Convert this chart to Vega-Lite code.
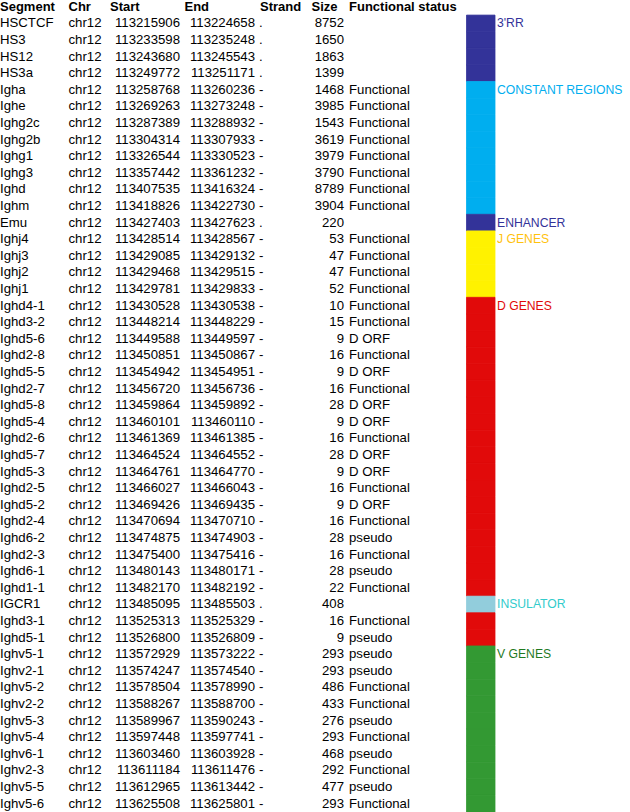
{
  "$schema": "https://vega.github.io/schema/vega-lite/v6.json",
  "padding": 0,
  "bounds": "flush",
  "spacing": 4.5,
  "background": "white",
  "config": {"view": {"stroke": null}, "text": {"font": "Liberation Sans", "fontSize": 13.2, "baseline": "middle", "align": "left", "color": "black"}},
  "datasets": {
    "rows": [
      {"Segment": "HSCTCF", "Chr": "chr12", "Start": 113215906, "End": 113224658, "Strand": ".", "Size": 8752, "Status": "", "Region": "3'RR", "Label": "3'RR"},
      {"Segment": "HS3", "Chr": "chr12", "Start": 113233598, "End": 113235248, "Strand": ".", "Size": 1650, "Status": "", "Region": "3'RR"},
      {"Segment": "HS12", "Chr": "chr12", "Start": 113243680, "End": 113245543, "Strand": ".", "Size": 1863, "Status": "", "Region": "3'RR"},
      {"Segment": "HS3a", "Chr": "chr12", "Start": 113249772, "End": 113251171, "Strand": ".", "Size": 1399, "Status": "", "Region": "3'RR"},
      {"Segment": "Igha", "Chr": "chr12", "Start": 113258768, "End": 113260236, "Strand": "-", "Size": 1468, "Status": "Functional", "Region": "CONSTANT REGIONS", "Label": "CONSTANT REGIONS"},
      {"Segment": "Ighe", "Chr": "chr12", "Start": 113269263, "End": 113273248, "Strand": "-", "Size": 3985, "Status": "Functional", "Region": "CONSTANT REGIONS"},
      {"Segment": "Ighg2c", "Chr": "chr12", "Start": 113287389, "End": 113288932, "Strand": "-", "Size": 1543, "Status": "Functional", "Region": "CONSTANT REGIONS"},
      {"Segment": "Ighg2b", "Chr": "chr12", "Start": 113304314, "End": 113307933, "Strand": "-", "Size": 3619, "Status": "Functional", "Region": "CONSTANT REGIONS"},
      {"Segment": "Ighg1", "Chr": "chr12", "Start": 113326544, "End": 113330523, "Strand": "-", "Size": 3979, "Status": "Functional", "Region": "CONSTANT REGIONS"},
      {"Segment": "Ighg3", "Chr": "chr12", "Start": 113357442, "End": 113361232, "Strand": "-", "Size": 3790, "Status": "Functional", "Region": "CONSTANT REGIONS"},
      {"Segment": "Ighd", "Chr": "chr12", "Start": 113407535, "End": 113416324, "Strand": "-", "Size": 8789, "Status": "Functional", "Region": "CONSTANT REGIONS"},
      {"Segment": "Ighm", "Chr": "chr12", "Start": 113418826, "End": 113422730, "Strand": "-", "Size": 3904, "Status": "Functional", "Region": "CONSTANT REGIONS"},
      {"Segment": "Emu", "Chr": "chr12", "Start": 113427403, "End": 113427623, "Strand": ".", "Size": 220, "Status": "", "Region": "ENHANCER", "Label": "ENHANCER"},
      {"Segment": "Ighj4", "Chr": "chr12", "Start": 113428514, "End": 113428567, "Strand": "-", "Size": 53, "Status": "Functional", "Region": "J GENES", "Label": "J GENES"},
      {"Segment": "Ighj3", "Chr": "chr12", "Start": 113429085, "End": 113429132, "Strand": "-", "Size": 47, "Status": "Functional", "Region": "J GENES"},
      {"Segment": "Ighj2", "Chr": "chr12", "Start": 113429468, "End": 113429515, "Strand": "-", "Size": 47, "Status": "Functional", "Region": "J GENES"},
      {"Segment": "Ighj1", "Chr": "chr12", "Start": 113429781, "End": 113429833, "Strand": "-", "Size": 52, "Status": "Functional", "Region": "J GENES"},
      {"Segment": "Ighd4-1", "Chr": "chr12", "Start": 113430528, "End": 113430538, "Strand": "-", "Size": 10, "Status": "Functional", "Region": "D GENES", "Label": "D GENES"},
      {"Segment": "Ighd3-2", "Chr": "chr12", "Start": 113448214, "End": 113448229, "Strand": "-", "Size": 15, "Status": "Functional", "Region": "D GENES"},
      {"Segment": "Ighd5-6", "Chr": "chr12", "Start": 113449588, "End": 113449597, "Strand": "-", "Size": 9, "Status": "D ORF", "Region": "D GENES"},
      {"Segment": "Ighd2-8", "Chr": "chr12", "Start": 113450851, "End": 113450867, "Strand": "-", "Size": 16, "Status": "Functional", "Region": "D GENES"},
      {"Segment": "Ighd5-5", "Chr": "chr12", "Start": 113454942, "End": 113454951, "Strand": "-", "Size": 9, "Status": "D ORF", "Region": "D GENES"},
      {"Segment": "Ighd2-7", "Chr": "chr12", "Start": 113456720, "End": 113456736, "Strand": "-", "Size": 16, "Status": "Functional", "Region": "D GENES"},
      {"Segment": "Ighd5-8", "Chr": "chr12", "Start": 113459864, "End": 113459892, "Strand": "-", "Size": 28, "Status": "D ORF", "Region": "D GENES"},
      {"Segment": "Ighd5-4", "Chr": "chr12", "Start": 113460101, "End": 113460110, "Strand": "-", "Size": 9, "Status": "D ORF", "Region": "D GENES"},
      {"Segment": "Ighd2-6", "Chr": "chr12", "Start": 113461369, "End": 113461385, "Strand": "-", "Size": 16, "Status": "Functional", "Region": "D GENES"},
      {"Segment": "Ighd5-7", "Chr": "chr12", "Start": 113464524, "End": 113464552, "Strand": "-", "Size": 28, "Status": "D ORF", "Region": "D GENES"},
      {"Segment": "Ighd5-3", "Chr": "chr12", "Start": 113464761, "End": 113464770, "Strand": "-", "Size": 9, "Status": "D ORF", "Region": "D GENES"},
      {"Segment": "Ighd2-5", "Chr": "chr12", "Start": 113466027, "End": 113466043, "Strand": "-", "Size": 16, "Status": "Functional", "Region": "D GENES"},
      {"Segment": "Ighd5-2", "Chr": "chr12", "Start": 113469426, "End": 113469435, "Strand": "-", "Size": 9, "Status": "D ORF", "Region": "D GENES"},
      {"Segment": "Ighd2-4", "Chr": "chr12", "Start": 113470694, "End": 113470710, "Strand": "-", "Size": 16, "Status": "Functional", "Region": "D GENES"},
      {"Segment": "Ighd6-2", "Chr": "chr12", "Start": 113474875, "End": 113474903, "Strand": "-", "Size": 28, "Status": "pseudo", "Region": "D GENES"},
      {"Segment": "Ighd2-3", "Chr": "chr12", "Start": 113475400, "End": 113475416, "Strand": "-", "Size": 16, "Status": "Functional", "Region": "D GENES"},
      {"Segment": "Ighd6-1", "Chr": "chr12", "Start": 113480143, "End": 113480171, "Strand": "-", "Size": 28, "Status": "pseudo", "Region": "D GENES"},
      {"Segment": "Ighd1-1", "Chr": "chr12", "Start": 113482170, "End": 113482192, "Strand": "-", "Size": 22, "Status": "Functional", "Region": "D GENES"},
      {"Segment": "IGCR1", "Chr": "chr12", "Start": 113485095, "End": 113485503, "Strand": ".", "Size": 408, "Status": "", "Region": "INSULATOR", "Label": "INSULATOR"},
      {"Segment": "Ighd3-1", "Chr": "chr12", "Start": 113525313, "End": 113525329, "Strand": "-", "Size": 16, "Status": "Functional", "Region": "D GENES"},
      {"Segment": "Ighd5-1", "Chr": "chr12", "Start": 113526800, "End": 113526809, "Strand": "-", "Size": 9, "Status": "pseudo", "Region": "D GENES"},
      {"Segment": "Ighv5-1", "Chr": "chr12", "Start": 113572929, "End": 113573222, "Strand": "-", "Size": 293, "Status": "pseudo", "Region": "V GENES", "Label": "V GENES"},
      {"Segment": "Ighv2-1", "Chr": "chr12", "Start": 113574247, "End": 113574540, "Strand": "-", "Size": 293, "Status": "pseudo", "Region": "V GENES"},
      {"Segment": "Ighv5-2", "Chr": "chr12", "Start": 113578504, "End": 113578990, "Strand": "-", "Size": 486, "Status": "Functional", "Region": "V GENES"},
      {"Segment": "Ighv2-2", "Chr": "chr12", "Start": 113588267, "End": 113588700, "Strand": "-", "Size": 433, "Status": "Functional", "Region": "V GENES"},
      {"Segment": "Ighv5-3", "Chr": "chr12", "Start": 113589967, "End": 113590243, "Strand": "-", "Size": 276, "Status": "pseudo", "Region": "V GENES"},
      {"Segment": "Ighv5-4", "Chr": "chr12", "Start": 113597448, "End": 113597741, "Strand": "-", "Size": 293, "Status": "Functional", "Region": "V GENES"},
      {"Segment": "Ighv6-1", "Chr": "chr12", "Start": 113603460, "End": 113603928, "Strand": "-", "Size": 468, "Status": "pseudo", "Region": "V GENES"},
      {"Segment": "Ighv2-3", "Chr": "chr12", "Start": 113611184, "End": 113611476, "Strand": "-", "Size": 292, "Status": "Functional", "Region": "V GENES"},
      {"Segment": "Ighv5-5", "Chr": "chr12", "Start": 113612965, "End": 113613442, "Strand": "-", "Size": 477, "Status": "pseudo", "Region": "V GENES"},
      {"Segment": "Ighv5-6", "Chr": "chr12", "Start": 113625508, "End": 113625801, "Strand": "-", "Size": 293, "Status": "Functional", "Region": "V GENES"}
    ]
  },
  "data": {"name": "rows"},
  "hconcat": [
    {
      "width": 63.5, "height": 812,
      "layer": [
        {"data": {"values": [{"col": "Segment"}]}, "mark": {"type": "text", "fontWeight": "bold", "fontSize": 13},
         "encoding": {"x": {"datum": "L", "type": "nominal", "axis": null}, "y": {"datum": "header", "type": "nominal", "axis": null}, "text": {"field": "col"}}},
        {"mark": {"type": "text"},
         "encoding": {"x": {"datum": "L", "type": "nominal", "axis": null, "scale": {"type": "point", "domain": ["L", "R"], "padding": 0}},
           "y": {"field": "Segment", "type": "nominal", "axis": null,
             "scale": {"type": "band", "paddingInner": 0, "paddingOuter": 0, "range": [-2.5, 811],
               "domain": ["header", "HSCTCF", "HS3", "HS12", "HS3a", "Igha", "Ighe", "Ighg2c", "Ighg2b", "Ighg1", "Ighg3", "Ighd", "Ighm", "Emu", "Ighj4", "Ighj3", "Ighj2", "Ighj1", "Ighd4-1", "Ighd3-2", "Ighd5-6", "Ighd2-8", "Ighd5-5", "Ighd2-7", "Ighd5-8", "Ighd5-4", "Ighd2-6", "Ighd5-7", "Ighd5-3", "Ighd2-5", "Ighd5-2", "Ighd2-4", "Ighd6-2", "Ighd2-3", "Ighd6-1", "Ighd1-1", "IGCR1", "Ighd3-1", "Ighd5-1", "Ighv5-1", "Ighv2-1", "Ighv5-2", "Ighv2-2", "Ighv5-3", "Ighv5-4", "Ighv6-1", "Ighv2-3", "Ighv5-5", "Ighv5-6"]}},
           "text": {"field": "Segment"}}}
      ]
    },
    {
      "width": 37, "height": 812,
      "layer": [
        {"data": {"values": [{"col": "Chr"}]}, "mark": {"type": "text", "fontWeight": "bold", "fontSize": 13},
         "encoding": {"x": {"datum": "L", "type": "nominal", "axis": null}, "y": {"datum": "header", "type": "nominal", "axis": null}, "text": {"field": "col"}}},
        {"mark": {"type": "text"},
         "encoding": {"x": {"datum": "L", "type": "nominal", "axis": null, "scale": {"type": "point", "domain": ["L", "R"], "padding": 0}},
           "y": {"field": "Segment", "type": "nominal", "axis": null,
             "scale": {"type": "band", "paddingInner": 0, "paddingOuter": 0, "range": [-2.5, 811],
               "domain": ["header", "HSCTCF", "HS3", "HS12", "HS3a", "Igha", "Ighe", "Ighg2c", "Ighg2b", "Ighg1", "Ighg3", "Ighd", "Ighm", "Emu", "Ighj4", "Ighj3", "Ighj2", "Ighj1", "Ighd4-1", "Ighd3-2", "Ighd5-6", "Ighd2-8", "Ighd5-5", "Ighd2-7", "Ighd5-8", "Ighd5-4", "Ighd2-6", "Ighd5-7", "Ighd5-3", "Ighd2-5", "Ighd5-2", "Ighd2-4", "Ighd6-2", "Ighd2-3", "Ighd6-1", "Ighd1-1", "IGCR1", "Ighd3-1", "Ighd5-1", "Ighv5-1", "Ighv2-1", "Ighv5-2", "Ighv2-2", "Ighv5-3", "Ighv5-4", "Ighv6-1", "Ighv2-3", "Ighv5-5", "Ighv5-6"]}},
           "text": {"field": "Chr"}}}
      ]
    },
    {
      "width": 70, "height": 812,
      "layer": [
        {"data": {"values": [{"col": "Start"}]}, "mark": {"type": "text", "fontWeight": "bold", "fontSize": 13},
         "encoding": {"x": {"datum": "L", "type": "nominal", "axis": null}, "y": {"datum": "header", "type": "nominal", "axis": null}, "text": {"field": "col"}}},
        {"mark": {"type": "text", "align": "right"},
         "encoding": {"x": {"datum": "R", "type": "nominal", "axis": null, "scale": {"type": "point", "domain": ["L", "R"], "padding": 0}},
           "y": {"field": "Segment", "type": "nominal", "axis": null,
             "scale": {"type": "band", "paddingInner": 0, "paddingOuter": 0, "range": [-2.5, 811],
               "domain": ["header", "HSCTCF", "HS3", "HS12", "HS3a", "Igha", "Ighe", "Ighg2c", "Ighg2b", "Ighg1", "Ighg3", "Ighd", "Ighm", "Emu", "Ighj4", "Ighj3", "Ighj2", "Ighj1", "Ighd4-1", "Ighd3-2", "Ighd5-6", "Ighd2-8", "Ighd5-5", "Ighd2-7", "Ighd5-8", "Ighd5-4", "Ighd2-6", "Ighd5-7", "Ighd5-3", "Ighd2-5", "Ighd5-2", "Ighd2-4", "Ighd6-2", "Ighd2-3", "Ighd6-1", "Ighd1-1", "IGCR1", "Ighd3-1", "Ighd5-1", "Ighv5-1", "Ighv2-1", "Ighv5-2", "Ighv2-2", "Ighv5-3", "Ighv5-4", "Ighv6-1", "Ighv2-3", "Ighv5-5", "Ighv5-6"]}},
           "text": {"field": "Start", "type": "quantitative", "format": "d"}}}
      ]
    },
    {
      "width": 70.5, "height": 812,
      "layer": [
        {"data": {"values": [{"col": "End"}]}, "mark": {"type": "text", "fontWeight": "bold", "fontSize": 13},
         "encoding": {"x": {"datum": "L", "type": "nominal", "axis": null}, "y": {"datum": "header", "type": "nominal", "axis": null}, "text": {"field": "col"}}},
        {"mark": {"type": "text", "align": "right"},
         "encoding": {"x": {"datum": "R", "type": "nominal", "axis": null, "scale": {"type": "point", "domain": ["L", "R"], "padding": 0}},
           "y": {"field": "Segment", "type": "nominal", "axis": null,
             "scale": {"type": "band", "paddingInner": 0, "paddingOuter": 0, "range": [-2.5, 811],
               "domain": ["header", "HSCTCF", "HS3", "HS12", "HS3a", "Igha", "Ighe", "Ighg2c", "Ighg2b", "Ighg1", "Ighg3", "Ighd", "Ighm", "Emu", "Ighj4", "Ighj3", "Ighj2", "Ighj1", "Ighd4-1", "Ighd3-2", "Ighd5-6", "Ighd2-8", "Ighd5-5", "Ighd2-7", "Ighd5-8", "Ighd5-4", "Ighd2-6", "Ighd5-7", "Ighd5-3", "Ighd2-5", "Ighd5-2", "Ighd2-4", "Ighd6-2", "Ighd2-3", "Ighd6-1", "Ighd1-1", "IGCR1", "Ighd3-1", "Ighd5-1", "Ighv5-1", "Ighv2-1", "Ighv5-2", "Ighv2-2", "Ighv5-3", "Ighv5-4", "Ighv6-1", "Ighv2-3", "Ighv5-5", "Ighv5-6"]}},
           "text": {"field": "End", "type": "quantitative", "format": "d"}}}
      ]
    },
    {
      "width": 46.5, "height": 812,
      "layer": [
        {"data": {"values": [{"col": "Strand"}]}, "mark": {"type": "text", "fontWeight": "bold", "fontSize": 13},
         "encoding": {"x": {"datum": "L", "type": "nominal", "axis": null}, "y": {"datum": "header", "type": "nominal", "axis": null}, "text": {"field": "col"}}},
        {"mark": {"type": "text", "dx": -1},
         "encoding": {"x": {"datum": "L", "type": "nominal", "axis": null, "scale": {"type": "point", "domain": ["L", "R"], "padding": 0}},
           "y": {"field": "Segment", "type": "nominal", "axis": null,
             "scale": {"type": "band", "paddingInner": 0, "paddingOuter": 0, "range": [-2.5, 811],
               "domain": ["header", "HSCTCF", "HS3", "HS12", "HS3a", "Igha", "Ighe", "Ighg2c", "Ighg2b", "Ighg1", "Ighg3", "Ighd", "Ighm", "Emu", "Ighj4", "Ighj3", "Ighj2", "Ighj1", "Ighd4-1", "Ighd3-2", "Ighd5-6", "Ighd2-8", "Ighd5-5", "Ighd2-7", "Ighd5-8", "Ighd5-4", "Ighd2-6", "Ighd5-7", "Ighd5-3", "Ighd2-5", "Ighd5-2", "Ighd2-4", "Ighd6-2", "Ighd2-3", "Ighd6-1", "Ighd1-1", "IGCR1", "Ighd3-1", "Ighd5-1", "Ighv5-1", "Ighv2-1", "Ighv5-2", "Ighv2-2", "Ighv5-3", "Ighv5-4", "Ighv6-1", "Ighv2-3", "Ighv5-5", "Ighv5-6"]}},
           "text": {"field": "Strand"}}}
      ]
    },
    {
      "width": 32.5, "height": 812,
      "layer": [
        {"data": {"values": [{"col": "Size"}]}, "mark": {"type": "text", "fontWeight": "bold", "fontSize": 13},
         "encoding": {"x": {"datum": "L", "type": "nominal", "axis": null}, "y": {"datum": "header", "type": "nominal", "axis": null}, "text": {"field": "col"}}},
        {"mark": {"type": "text", "align": "right"},
         "encoding": {"x": {"datum": "R", "type": "nominal", "axis": null, "scale": {"type": "point", "domain": ["L", "R"], "padding": 0}},
           "y": {"field": "Segment", "type": "nominal", "axis": null,
             "scale": {"type": "band", "paddingInner": 0, "paddingOuter": 0, "range": [-2.5, 811],
               "domain": ["header", "HSCTCF", "HS3", "HS12", "HS3a", "Igha", "Ighe", "Ighg2c", "Ighg2b", "Ighg1", "Ighg3", "Ighd", "Ighm", "Emu", "Ighj4", "Ighj3", "Ighj2", "Ighj1", "Ighd4-1", "Ighd3-2", "Ighd5-6", "Ighd2-8", "Ighd5-5", "Ighd2-7", "Ighd5-8", "Ighd5-4", "Ighd2-6", "Ighd5-7", "Ighd5-3", "Ighd2-5", "Ighd5-2", "Ighd2-4", "Ighd6-2", "Ighd2-3", "Ighd6-1", "Ighd1-1", "IGCR1", "Ighd3-1", "Ighd5-1", "Ighv5-1", "Ighv2-1", "Ighv5-2", "Ighv2-2", "Ighv5-3", "Ighv5-4", "Ighv6-1", "Ighv2-3", "Ighv5-5", "Ighv5-6"]}},
           "text": {"field": "Size", "type": "quantitative", "format": "d"}}}
      ]
    },
    {
      "width": 113, "height": 812,
      "layer": [
        {"data": {"values": [{"col": "Functional status"}]}, "mark": {"type": "text", "fontWeight": "bold", "fontSize": 13},
         "encoding": {"x": {"datum": "L", "type": "nominal", "axis": null}, "y": {"datum": "header", "type": "nominal", "axis": null}, "text": {"field": "col"}}},
        {"mark": {"type": "text"},
         "encoding": {"x": {"datum": "L", "type": "nominal", "axis": null, "scale": {"type": "point", "domain": ["L", "R"], "padding": 0}},
           "y": {"field": "Segment", "type": "nominal", "axis": null,
             "scale": {"type": "band", "paddingInner": 0, "paddingOuter": 0, "range": [-2.5, 811],
               "domain": ["header", "HSCTCF", "HS3", "HS12", "HS3a", "Igha", "Ighe", "Ighg2c", "Ighg2b", "Ighg1", "Ighg3", "Ighd", "Ighm", "Emu", "Ighj4", "Ighj3", "Ighj2", "Ighj1", "Ighd4-1", "Ighd3-2", "Ighd5-6", "Ighd2-8", "Ighd5-5", "Ighd2-7", "Ighd5-8", "Ighd5-4", "Ighd2-6", "Ighd5-7", "Ighd5-3", "Ighd2-5", "Ighd5-2", "Ighd2-4", "Ighd6-2", "Ighd2-3", "Ighd6-1", "Ighd1-1", "IGCR1", "Ighd3-1", "Ighd5-1", "Ighv5-1", "Ighv2-1", "Ighv5-2", "Ighv2-2", "Ighv5-3", "Ighv5-4", "Ighv6-1", "Ighv2-3", "Ighv5-5", "Ighv5-6"]}},
           "text": {"field": "Status"}}}
      ]
    },
    {
      "width": 28.5, "height": 812,
      "mark": {"type": "bar", "strokeWidth": 0.8},
      "encoding": {
        "y": {"field": "Segment", "type": "nominal", "axis": null,
          "scale": {"type": "band", "paddingInner": 0, "paddingOuter": 0, "range": [-2.5, 811],
            "domain": ["header", "HSCTCF", "HS3", "HS12", "HS3a", "Igha", "Ighe", "Ighg2c", "Ighg2b", "Ighg1", "Ighg3", "Ighd", "Ighm", "Emu", "Ighj4", "Ighj3", "Ighj2", "Ighj1", "Ighd4-1", "Ighd3-2", "Ighd5-6", "Ighd2-8", "Ighd5-5", "Ighd2-7", "Ighd5-8", "Ighd5-4", "Ighd2-6", "Ighd5-7", "Ighd5-3", "Ighd2-5", "Ighd5-2", "Ighd2-4", "Ighd6-2", "Ighd2-3", "Ighd6-1", "Ighd1-1", "IGCR1", "Ighd3-1", "Ighd5-1", "Ighv5-1", "Ighv2-1", "Ighv5-2", "Ighv2-2", "Ighv5-3", "Ighv5-4", "Ighv6-1", "Ighv2-3", "Ighv5-5", "Ighv5-6"]}},
        "color": {"field": "Region", "type": "nominal", "legend": null,
          "scale": {"domain": ["3'RR", "CONSTANT REGIONS", "ENHANCER", "J GENES", "D GENES", "INSULATOR", "V GENES"],
                    "range": ["#333399", "#00AEEF", "#333399", "#FFF200", "#E10A0A", "#92CDDC", "#339933"]}},
        "stroke": {"field": "Region", "type": "nominal", "legend": null,
          "scale": {"domain": ["3'RR", "CONSTANT REGIONS", "ENHANCER", "J GENES", "D GENES", "INSULATOR", "V GENES"],
                    "range": ["#333399", "#00AEEF", "#333399", "#FFF200", "#E10A0A", "#92CDDC", "#339933"]}}
      }
    },
    {
      "width": 133.5, "height": 812,
      "transform": [{"filter": "isValid(datum.Label)"}],
      "mark": {"type": "text", "dx": -3, "fontSize": 12.2},
      "encoding": {
        "x": {"datum": "L", "type": "nominal", "axis": null, "scale": {"type": "point", "domain": ["L", "R"], "padding": 0}},
        "y": {"field": "Segment", "type": "nominal", "axis": null,
          "scale": {"type": "band", "paddingInner": 0, "paddingOuter": 0, "range": [-2.5, 811],
            "domain": ["header", "HSCTCF", "HS3", "HS12", "HS3a", "Igha", "Ighe", "Ighg2c", "Ighg2b", "Ighg1", "Ighg3", "Ighd", "Ighm", "Emu", "Ighj4", "Ighj3", "Ighj2", "Ighj1", "Ighd4-1", "Ighd3-2", "Ighd5-6", "Ighd2-8", "Ighd5-5", "Ighd2-7", "Ighd5-8", "Ighd5-4", "Ighd2-6", "Ighd5-7", "Ighd5-3", "Ighd2-5", "Ighd5-2", "Ighd2-4", "Ighd6-2", "Ighd2-3", "Ighd6-1", "Ighd1-1", "IGCR1", "Ighd3-1", "Ighd5-1", "Ighv5-1", "Ighv2-1", "Ighv5-2", "Ighv2-2", "Ighv5-3", "Ighv5-4", "Ighv6-1", "Ighv2-3", "Ighv5-5", "Ighv5-6"]}},
        "text": {"field": "Label"},
        "fill": {"field": "Label", "type": "nominal", "legend": null,
          "scale": {"domain": ["3'RR", "CONSTANT REGIONS", "ENHANCER", "J GENES", "D GENES", "INSULATOR", "V GENES"],
                    "range": ["#333399", "#00AEEF", "#333399", "#FFC20E", "#E10A0A", "#33CCCC", "#1F7A1F"]}}
      }
    }
  ]
}
